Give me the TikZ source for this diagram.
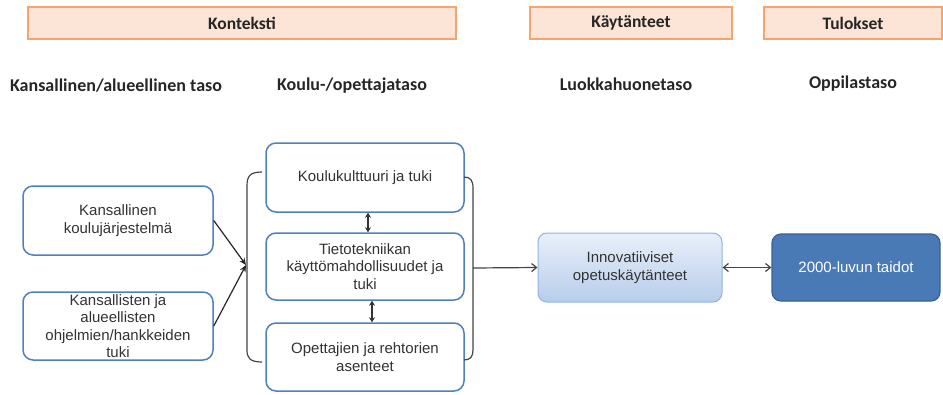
\documentclass[tikz,border=0pt]{standalone}
\usepackage{fontspec}
\setmainfont{Liberation Sans}
\newfontfamily\hdfont{Carlito}
\usetikzlibrary{arrows.meta}
\definecolor{boxblue}{HTML}{4F81BD}
\definecolor{hdfill}{HTML}{FCE4D6}
\definecolor{hdline}{HTML}{F4A46C}
\definecolor{darkblue}{HTML}{4A7AB5}
\definecolor{darkblueline}{HTML}{3A5F8F}
\definecolor{lightline}{HTML}{8EB4E3}
\definecolor{innovtop}{HTML}{E9F0FA}
\definecolor{innovbot}{HTML}{B7CDEA}
\definecolor{linegray}{HTML}{444444}
\tikzset{
  hdbox/.style={draw=hdline, fill=hdfill, line width=1.2pt, minimum height=32pt, inner sep=0pt, font=\hdfont\bfseries\fontsize{17.5}{20}\selectfont, text=black!85},
  lvl/.style={font=\hdfont\bfseries\fontsize{18}{21}\selectfont, text=black!85, inner sep=0pt},
  wbox/.style={draw=boxblue, fill=white, line width=1.5pt, rounded corners=10pt, align=center, inner sep=0pt, font=\fontsize{15}{17.5}\selectfont, text=black!80},
  innovbox/.style={draw=lightline, line width=1pt, rounded corners=9pt, top color=innovtop, bottom color=innovbot, align=center, inner sep=0pt, font=\fontsize{15}{17.5}\selectfont, text=black!80},
  resbox/.style={draw=darkblueline, fill=darkblue, line width=1.2pt, rounded corners=9pt, align=center, inner sep=0pt, font=\fontsize{15}{17.5}\selectfont, text=white},
  brk/.style={draw=linegray, line width=1.2pt},
  conn/.style={draw=black!85, line width=1.2pt, -{Stealth[length=7pt,width=6pt]}},
  openarr/.style={draw=linegray, line width=1.2pt, -{Straight Barb[length=5pt,width=8pt]}},
  dblarr/.style={draw=linegray, line width=1.2pt, {Straight Barb[length=5pt,width=8pt]}-{Straight Barb[length=5pt,width=8pt]}},
  smalldbl/.style={draw=black!80, line width=1.2pt, {Stealth[length=5pt,width=6pt]}-{Stealth[length=5pt,width=6pt]}}
}
\begin{document}
\begin{tikzpicture}[x=1pt,y=-1pt]
\useasboundingbox (0,0) rectangle (943,394);
% headers
\node[hdbox, minimum width=428pt] (hk) at (242,23) {Konteksti};
\node[hdbox, minimum width=202pt] (hp) at (631,23) {Käytänteet};
\node[hdbox, minimum width=178pt] (ht) at (853,23) {Tulokset};
% levels
\node[lvl] (l1) at (116,86) {Kansallinen/alueellinen taso};
\node[lvl] (l2) at (352,86) {Koulu-/opettajataso};
\node[lvl] (l3) at (626,84) {Luokkahuonetaso};
\node[lvl] (l4) at (853,84) {Oppilastaso};
% left boxes
\node[wbox, minimum width=190pt, minimum height=69pt] (b1) at (118,220.5) {Kansallinen\\koulujärjestelmä};
\node[wbox, minimum width=190pt, minimum height=68pt] (b2) at (118,326) {Kansallisten ja\\alueellisten\\ohjelmien/hankkeiden\\tuki};
% middle boxes
\node[wbox, minimum width=198pt, minimum height=69pt] (ma) at (365,177.5) {Koulukulttuuri ja tuki};
\node[wbox, minimum width=198pt, minimum height=67pt] (mb) at (365,266.5) {Tietotekniikan\\käyttömahdollisuudet ja\\tuki};
\node[wbox, minimum width=198pt, minimum height=68pt] (mc) at (365,357) {Opettajien ja rehtorien\\asenteet};
% right boxes
\node[innovbox, minimum width=184pt, minimum height=69pt] (inn) at (630,267.5) {Innovatiiviset\\opetuskäytänteet};
\node[resbox, minimum width=168pt, minimum height=67pt] (res) at (856,267.5) {2000-luvun taidot};
% brackets
\draw[brk] (262,172) .. controls (250,172) and (247,176) .. (247,186) -- (247,350) .. controls (247,358) and (250,362) .. (262,362);
\draw[brk] (464,177) .. controls (470,177) and (473,180) .. (473,188) -- (473,350) .. controls (473,357) and (470,360) .. (464,360);
\coordinate (conv) at (246,265);
\coordinate (rb) at (473,268);
% connectors
\draw[conn] (b1.east) -- (conv);
\draw[conn] (b2.east) -- (conv);
\draw[openarr] (rb) -- (inn.west);
\draw[dblarr] (inn.east) -- (res.west);
\draw[smalldbl] ([xshift=3pt]ma.south) -- ([xshift=3pt]mb.north);
\draw[smalldbl] ([xshift=7pt]mb.south) -- ([xshift=7pt]mc.north);
\end{tikzpicture}
\end{document}
